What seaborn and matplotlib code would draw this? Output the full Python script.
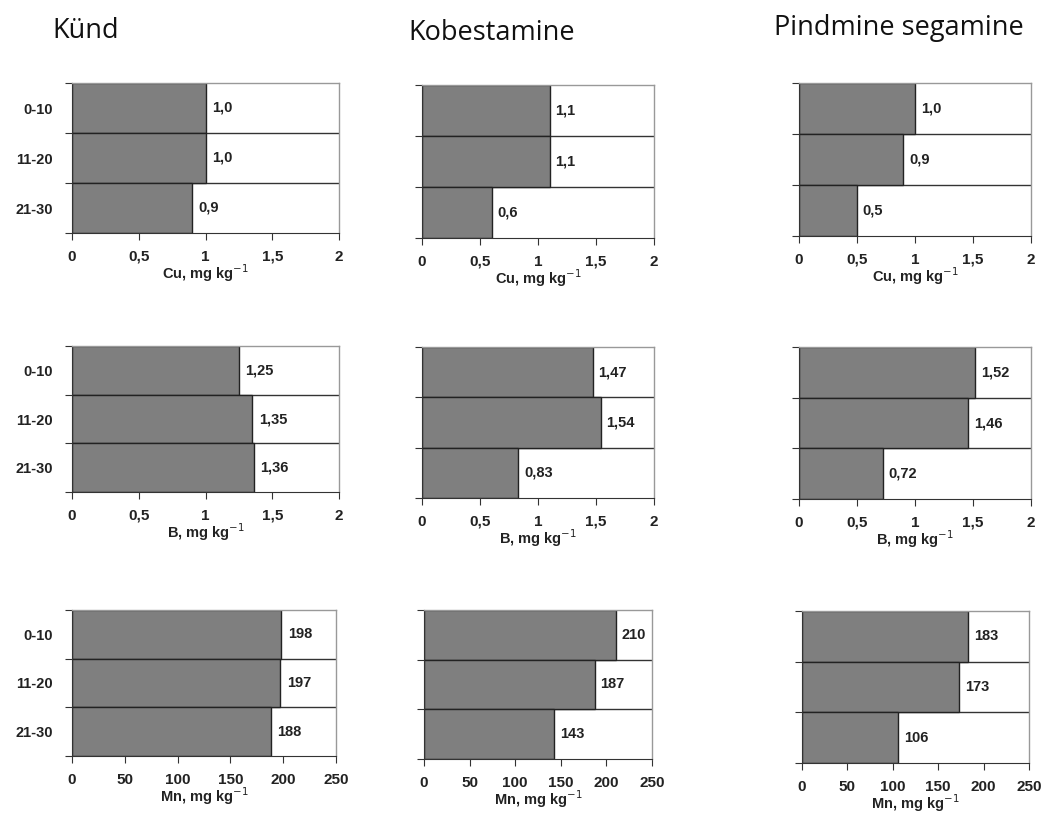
import pandas as pd
import matplotlib.pyplot as plt
import numpy as np
import seaborn as sns

sns.set_style('white')
plt.rcParams['font.family'] = ['Liberation Sans', 'DejaVu Sans']

# depth layers and treatments
depths = ['0-10', '11-20', '21-30']
treatments = ['Künd', 'Kobestamine', 'Pindmine segamine']

# values per element, one list per treatment (rows: 0-10, 11-20, 21-30)
cu_vals = [[1.0, 1.0, 0.9], [1.1, 1.1, 0.6], [1.0, 0.9, 0.5]]
cu_text = [['1,0', '1,0', '0,9'], ['1,1', '1,1', '0,6'], ['1,0', '0,9', '0,5']]
b_vals = [[1.25, 1.35, 1.36], [1.47, 1.54, 0.83], [1.52, 1.46, 0.72]]
b_text = [['1,25', '1,35', '1,36'], ['1,47', '1,54', '0,83'], ['1,52', '1,46', '0,72']]
mn_vals = [[198, 197, 188], [210, 187, 143], [183, 173, 106]]
mn_text = [['198', '197', '188'], ['210', '187', '143'], ['183', '173', '106']]

elements = ['Cu', 'B', 'Mn']
all_vals = [cu_vals, b_vals, mn_vals]
all_text = [cu_text, b_text, mn_text]
x_max = [2, 2, 250]
x_ticks = [[0, 0.5, 1, 1.5, 2], [0, 0.5, 1, 1.5, 2], [0, 50, 100, 150, 200, 250]]
x_ticklabels = [['0', '0,5', '1', '1,5', '2'], ['0', '0,5', '1', '1,5', '2'],
                ['0', '50', '100', '150', '200', '250']]

# panel boxes in pixels (left, top, right, bottom)
W, H = 1048, 818
boxes = [
    [(72, 83, 339, 233), (422, 85, 654, 238), (799, 83, 1031, 236)],
    [(72, 346, 339, 492), (422, 347, 654, 498), (799, 347, 1031, 499)],
    [(72, 610, 336, 756), (424, 610, 652, 759), (802, 611, 1029, 763)],
]

fig = plt.figure(figsize=(W / 100, H / 100), dpi=100)

for r in range(3):
    for c in range(3):
        l, t, rr, b = boxes[r][c]
        ax = fig.add_axes([l / W, 1 - b / H, (rr - l) / W, (b - t) / H])
        df = pd.DataFrame({'depth': depths, 'value': all_vals[r][c]})
        sns.barplot(data=df, x='value', y='depth', orient='h', width=1.0,
                    color='#7f7f7f', saturation=1, edgecolor='#222222',
                    linewidth=1.0, ax=ax)
        for i, v in enumerate(all_vals[r][c]):
            ax.text(v + x_max[r] * 0.025, i, all_text[r][c][i], va='center',
                    ha='left', fontsize=10.5, color='#222222', fontweight='bold')
        for yb in [0.5, 1.5]:
            ax.axhline(yb, color='#333333', lw=1.0, zorder=0.5)
        ax.set_xlim(0, x_max[r])
        ax.set_ylim(2.5, -0.5)
        ax.set_xticks(x_ticks[r])
        ax.set_xticklabels(x_ticklabels[r], fontsize=11, fontweight='bold',
                           color='#222222')
        ax.tick_params(axis='x', direction='out', length=5, width=0.8,
                       color='#333333', pad=7, bottom=True)
        ax.set_yticks([-0.5, 0.5, 1.5, 2.5])
        ax.set_yticklabels([])
        ax.set_yticks([0, 1, 2], minor=True)
        if c == 0:
            ax.set_yticklabels(depths, minor=True, fontsize=10.5,
                               fontweight='bold', color='#222222')
        ax.tick_params(axis='y', which='major', direction='out', length=5,
                       width=0.8, color='#333333', left=True)
        ax.tick_params(axis='y', which='minor', length=0, pad=14)
        ax.set_ylabel('')
        ax.set_xlabel(elements[r] + ', mg kg$^{-1}$', fontsize=10.5,
                      fontweight='bold', color='#222222', labelpad=-1)
        for side in ['top', 'right']:
            ax.spines[side].set_color('#999999')
            ax.spines[side].set_linewidth(1.0)
        ax.spines['bottom'].set_color('#333333')
        ax.spines['left'].set_color('#333333')

title_x = [52, 408, 774]
title_y = [31, 33, 28]
for c in range(3):
    fig.text(title_x[c] / W, 1 - title_y[c] / H, treatments[c],
             family=['Open Sans', 'DejaVu Sans'], fontsize=19.5,
             ha='left', va='center', color='#111111')

fig.savefig('out.png', dpi=100)
